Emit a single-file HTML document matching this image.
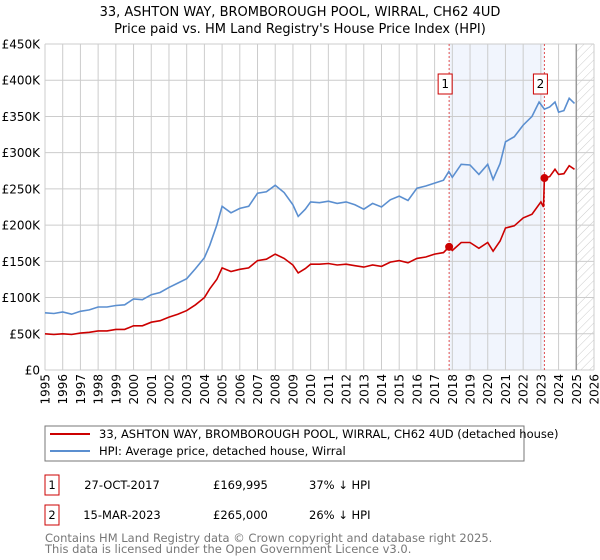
<!DOCTYPE html>
<html><head><meta charset="utf-8"><style>
body{margin:0;background:#fff;font-family:"Liberation Sans","DejaVu Sans",sans-serif}
svg{display:block}
</style></head><body>
<svg id="c" width="600" height="560" font-family="DejaVu Sans, Liberation Sans, sans-serif">
<text x="300" y="16" text-anchor="middle" font-size="13">33, ASHTON WAY, BROMBOROUGH POOL, WIRRAL, CH62 4UD</text>
<text x="300" y="33" text-anchor="middle" font-size="13">Price paid vs. HM Land Registry's House Price Index (HPI)</text>
<defs><pattern id="h" width="6" height="6" patternUnits="userSpaceOnUse" patternTransform="rotate(45)"><line x1="0" y1="0" x2="0" y2="6" stroke="#ccc" stroke-width="1"/></pattern></defs>
<g id="grid"></g><g id="marks"></g>
<rect x="45" y="426" width="479" height="35" fill="none" stroke="#777"/>
<line x1="50" y1="434" x2="90" y2="434" stroke="#cc0000" stroke-width="2"/>
<text x="99" y="438" font-size="11.5">33, ASHTON WAY, BROMBOROUGH POOL, WIRRAL, CH62 4UD (detached house)</text>
<line x1="50" y1="451" x2="90" y2="451" stroke="#5b8fd0" stroke-width="2"/>
<text x="99" y="455" font-size="11.5">HPI: Average price, detached house, Wirral</text>
<g font-size="11.5">
<rect x="45" y="475" width="14" height="20" fill="#fff" stroke="#cc0000"/>
<text x="52" y="489" text-anchor="middle">1</text>
<text x="122" y="489" text-anchor="middle">27-OCT-2017</text>
<text x="213" y="489">£169,995</text>
<text x="309" y="489">37% ↓ HPI</text>
<rect x="45" y="505" width="14" height="20" fill="#fff" stroke="#cc0000"/>
<text x="52" y="519" text-anchor="middle">2</text>
<text x="122" y="519" text-anchor="middle">15-MAR-2023</text>
<text x="213" y="519">£265,000</text>
<text x="309" y="519">26% ↓ HPI</text>
</g>
<text x="45" y="542" font-size="11.5" fill="#777">Contains HM Land Registry data © Crown copyright and database right 2025.</text>
<text x="45" y="553" font-size="11.5" fill="#777">This data is licensed under the Open Government Licence v3.0.</text>
</svg>
<script>
const hpiYears=[1995,1995.5,1996,1996.5,1997,1997.5,1998,1998.5,1999,1999.5,2000,2000.5,2001,2001.5,2002,2002.5,2003,2003.5,2004,2004.3,2004.7,2005,2005.5,2006,2006.5,2007,2007.5,2008,2008.5,2009,2009.3,2009.7,2010,2010.5,2011,2011.5,2012,2012.5,2013,2013.5,2014,2014.5,2015,2015.5,2016,2016.5,2017,2017.5,2017.8,2018,2018.5,2019,2019.5,2020,2020.3,2020.7,2021,2021.5,2022,2022.5,2022.9,2023.2,2023.5,2023.8,2024,2024.3,2024.6,2024.9];
const hpiValues=[79,78,80,77,81,83,87,87,89,90,98,97,104,107,114,120,126,140,155,172,200,226,217,223,226,244,246,255,245,228,212,222,232,231,233,230,232,228,222,230,225,235,240,234,251,254,258,262,274,266,284,283,270,284,263,285,315,322,338,350,370,360,363,370,356,358,375,368];
const ppYears=[1995,1995.5,1996,1996.5,1997,1997.5,1998,1998.5,1999,1999.5,2000,2000.5,2001,2001.5,2002,2002.5,2003,2003.5,2004,2004.3,2004.7,2005,2005.5,2006,2006.5,2007,2007.5,2008,2008.5,2009,2009.3,2009.7,2010,2010.5,2011,2011.5,2012,2012.5,2013,2013.5,2014,2014.5,2015,2015.5,2016,2016.5,2017,2017.5,2017.82,2018,2018.5,2019,2019.5,2020,2020.3,2020.7,2021,2021.5,2022,2022.5,2023,2023.15,2023.2,2023.5,2023.8,2024,2024.3,2024.6,2024.9];
const ppValues=[50,49,50,49,51,52,54,54,56,56,61,61,66,68,73,77,82,90,100,112,125,141,136,139,141,151,153,160,154,145,134,140,146,146,147,145,146,144,142,145,143,149,151,148,154,156,160,162,170,165,176,176,168,176,164,178,196,199,210,215,232,225,265,267,277,270,271,282,277];
const sales=[{n:'1',t:2017.82,v:169.995},{n:'2',t:2023.2,v:265}];
const yTicks=[0,50,100,150,200,250,300,350,400,450];
const yTickLabels=['£0','£50K','£100K','£150K','£200K','£250K','£300K','£350K','£400K','£450K'];
const xTicks=[1995,1996,1997,1998,1999,2000,2001,2002,2003,2004,2005,2006,2007,2008,2009,2010,2011,2012,2013,2014,2015,2016,2017,2018,2019,2020,2021,2022,2023,2024,2025,2026];
const X0=45,X1=594,Y0=370,Y1=44;
const xs=t=>X0+(t-1995)/(2026-1995)*(X1-X0);
const ys=v=>Y0-v/450*(Y0-Y1);
const NS='http://www.w3.org/2000/svg';
function mk(tag,attrs,parent){const e=document.createElementNS(NS,tag);for(const k in attrs)e.setAttribute(k,attrs[k]);parent.appendChild(e);return e;}
const g=document.getElementById('grid'),m=document.getElementById('marks');
let r=mk('rect',{x:xs(sales[0].t),y:Y1,width:xs(sales[1].t)-xs(sales[0].t),height:Y0-Y1,fill:'#eef3fc',opacity:0.8},g);


r=mk('rect',{x:xs(2025),y:Y1,width:X1-xs(2025),height:Y0-Y1,fill:'url(#h)'},g);


xTicks.forEach(t=>{
  mk('line',{x1:xs(t),y1:Y1,x2:xs(t),y2:Y0,stroke:'#ccc','stroke-width':1},g);
  const tx=mk('text',{x:0,y:0,'font-size':12,'text-anchor':'end',transform:`translate(${xs(t)+4.5},374) rotate(-90)`},g);
  tx.textContent=t;
  
  
});
yTicks.forEach((v,i)=>{
  mk('line',{x1:X0,y1:ys(v),x2:X1,y2:ys(v),stroke:'#ccc','stroke-width':1},g);
  const tx=mk('text',{x:40,y:ys(v)+4.5,'font-size':12,'text-anchor':'end'},g);
  tx.textContent=yTickLabels[i];
  
  
});
let l=mk('line',{x1:xs(2025),y1:Y1,x2:xs(2025),y2:Y0,stroke:'#999','stroke-width':1.5},g);


sales.forEach(s=>{
  const vl=mk('line',{x1:xs(s.t),y1:Y1,x2:xs(s.t),y2:Y0,stroke:'#e05050','stroke-width':1,'stroke-dasharray':'2,2'},m);
  
  
  const b=mk('rect',{x:xs(s.t)-11,y:74,width:14,height:20,fill:'#fff',stroke:'#cc0000'},m);
  
  
  const t=mk('text',{x:xs(s.t)-4,y:88,'font-size':12,'text-anchor':'middle'},m);t.textContent=s.n;
});
function path(xa,va,col,name){
  const p=mk('path',{d:xa.map((t,i)=>(i?'L':'M')+xs(t).toFixed(1)+','+ys(va[i]).toFixed(1)).join(''),fill:'none',stroke:col,'stroke-width':1.6},m);
  
  
}
path(hpiYears,hpiValues,'#5b8fd0','hpi-line');
path(ppYears,ppValues,'#cc0000','property-line');
sales.forEach(s=>{
  const c=mk('circle',{cx:xs(s.t),cy:ys(s.v),r:4,fill:'#cc0000'},m);
  
  
});
</script>
</body></html>
